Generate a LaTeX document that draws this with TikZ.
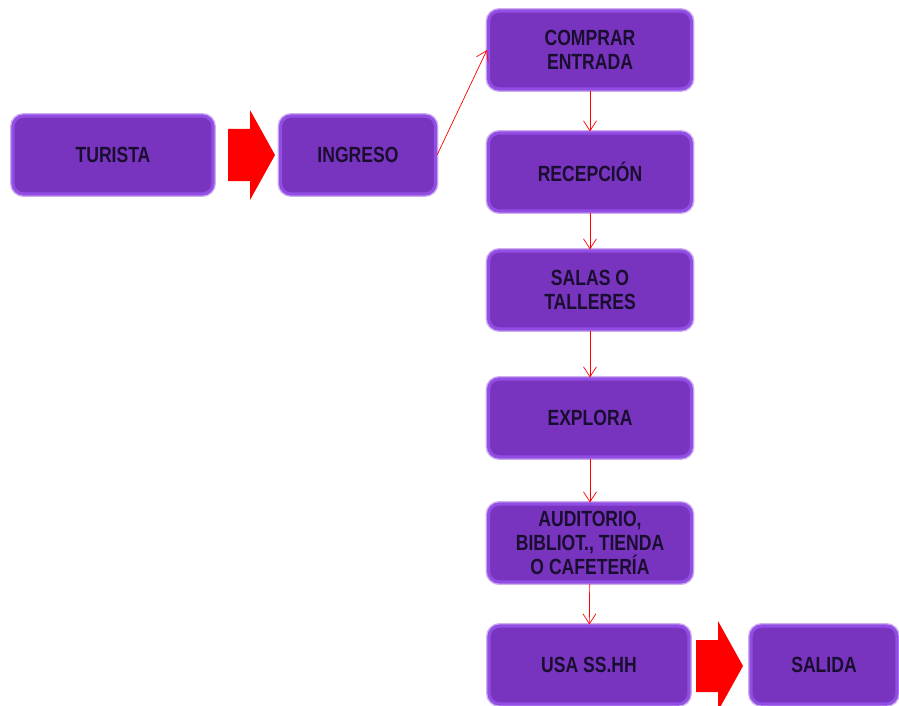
\documentclass[tikz,border=0pt]{standalone}
\usepackage{fontspec}
\setmainfont{Liberation Sans}[FakeStretch=0.8]
\usepackage{tikz}
\usetikzlibrary{arrows.meta,positioning}
\definecolor{boxfill}{RGB}{120,52,190}
\definecolor{boxedge}{RGB}{146,78,228}
\definecolor{boxglow}{RGB}{205,175,240}
\definecolor{boxtext}{RGB}{26,14,48}
\tikzset{
  flowbox/.style={draw=boxedge, line width=1.8pt, fill=boxfill, rounded corners=6pt,
    align=center, text=boxtext, minimum height=1.56cm, minimum width=4.06cm,
    font=\bfseries\fontsize{12.5}{13.5}\selectfont, inner sep=2pt,
    preaction={draw=boxglow, line width=3.4pt}},
  flowarrow/.style={-{Straight Barb[length=2mm,width=2.6mm]}, red, thin},
  bigarrow/.pic={
    \fill[red] (0,-26) -- (22,-26) -- (22,-45) -- (47,0) -- (22,45) -- (22,26) -- (0,26) -- cycle;
  },
}
\begin{document}
\begin{tikzpicture}[x=0.02cm, y=-0.02cm]
  \useasboundingbox (0,0) rectangle (899,706);
  \node[flowbox, minimum width=4.0cm] (turista) at (113,155) {TURISTA};
  \node[flowbox, minimum width=3.1cm] (ingreso) at (358,155) {INGRESO};
  \coordinate (flecha1) at (228,155);
  \pic at (flecha1) {bigarrow};

  \node[flowbox] (comprar) at (590,50) {COMPRAR\\ENTRADA};
  \node[flowbox] (recepcion) at (590,172) {RECEPCIÓN};
  \node[flowbox] (salas) at (590,290) {SALAS O\\TALLERES};
  \node[flowbox] (explora) at (590,418) {EXPLORA};
  \node[flowbox] (auditorio) at (590,543) {AUDITORIO,\\BIBLIOT., TIENDA\\O CAFETERÍA};
  \node[flowbox, minimum width=4.0cm] (usa) at (589,665) {USA SS.HH};
  \coordinate (flecha2) at (696,666);
  \pic at (flecha2) {bigarrow};
  \node[flowbox, minimum width=2.92cm] (salida) at (824,665) {SALIDA};

  \draw[flowarrow] (ingreso.east) -- (comprar.west);
  \draw[flowarrow] (comprar) -- (recepcion);
  \draw[flowarrow] (recepcion) -- (salas);
  \draw[flowarrow] (salas) -- (explora);
  \draw[flowarrow] (explora) -- (auditorio);
  \draw[flowarrow] (auditorio) -- (usa);
\end{tikzpicture}
\end{document}
